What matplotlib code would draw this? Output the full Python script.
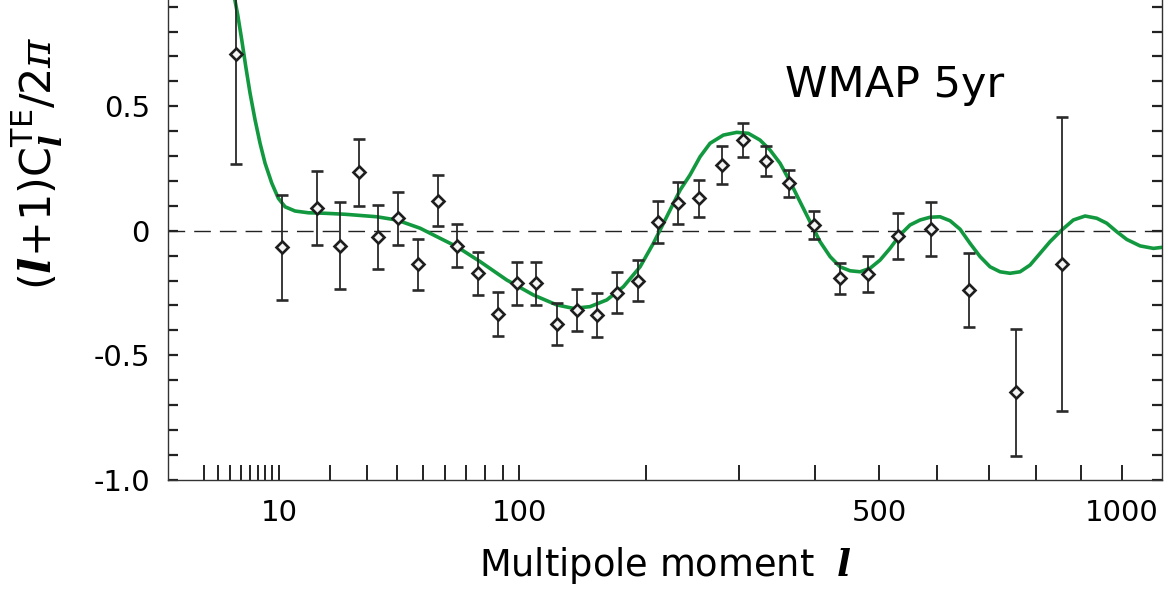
#!/usr/bin/env python3
"""
WMAP 5yr TE power spectrum - recreated from the published figure
x axis is stretched as l^0.4 like the original plot
"""

import numpy as np
import matplotlib
matplotlib.use('Agg')
import matplotlib.pyplot as plt
from matplotlib.ticker import FixedLocator, FixedFormatter

# binned TE points
ell_bins = [4.5, 10.5, 17.0, 22.5, 27.7, 33.5, 40.6, 48.3, 56.8, 65.7,
            76.4, 87.6, 98.9, 111.0, 125.3, 140.2, 156.1, 173.5, 191.8, 211.5,
            231.7, 254.2, 279.4, 305.2, 333.7, 364.7, 399.3, 437.7, 482.0, 531.8,
            589.5, 661.0, 756.0, 856.6]
te_vals = [0.710, -0.067, 0.090, -0.060, 0.235, -0.024, 0.050, -0.135, 0.120, -0.060,
           -0.171, -0.336, -0.211, -0.211, -0.376, -0.318, -0.339, -0.249, -0.201, 0.036,
           0.110, 0.130, 0.264, 0.364, 0.280, 0.190, 0.023, -0.191, -0.175, -0.021,
           0.007, -0.238, -0.649, -0.134]
te_err = [0.442, 0.212, 0.149, 0.175, 0.135, 0.128, 0.106, 0.102, 0.103, 0.087,
          0.087, 0.088, 0.087, 0.087, 0.084, 0.084, 0.087, 0.082, 0.083, 0.084,
          0.084, 0.075, 0.076, 0.068, 0.061, 0.055, 0.055, 0.062, 0.072, 0.091,
          0.108, 0.149, 0.254, 0.589]

# best-fit model curve, sampled from the figure
model_ell = [3.98, 4.709, 5.121, 5.553, 6.041, 6.640, 7.273, 7.941, 8.892, 9.893,
             10.975, 12.716, 15.275, 18.896, 23.852, 33.17, 40.03, 49.01, 59.07, 65.40,
             77.32, 92.47, 109.2, 125.3, 137.6, 150.6, 164.4, 178.8, 194.0, 206.6,
             219.8, 233.5, 244.0, 254.9, 266.0, 281.3, 297.2, 311.3, 326.0, 338.9,
             352.1, 365.6, 379.4, 393.5, 407.9, 422.7, 437.7, 453.1, 468.8, 484.7,
             501.1, 517.7, 534.7, 552.0, 569.7, 587.6, 605.9, 624.6, 643.6, 662.9,
             682.6, 702.6, 723.0, 743.7, 764.8, 786.2, 808.0, 830.1, 856.6, 883.1,
             910.5, 938.3, 962.5, 987.1, 1012.0, 1045.8, 1080.3, 1102.4]
model_te = [1.027, 0.866, 0.766, 0.659, 0.552, 0.445, 0.351, 0.271, 0.191, 0.130,
            0.096, 0.079, 0.072, 0.070, 0.066, 0.056, 0.043, 0.010, -0.037, -0.064,
            -0.124, -0.198, -0.258, -0.298, -0.312, -0.305, -0.278, -0.225, -0.145, -0.051,
            0.056, 0.163, 0.224, 0.297, 0.351, 0.384, 0.395, 0.391, 0.364, 0.324,
            0.271, 0.197, 0.116, 0.036, -0.044, -0.104, -0.145, -0.161, -0.165, -0.151,
            -0.118, -0.071, -0.017, 0.023, 0.043, 0.054, 0.056, 0.040, 0.006, -0.051,
            -0.104, -0.145, -0.165, -0.171, -0.165, -0.138, -0.091, -0.044, 0.003, 0.043,
            0.059, 0.050, 0.030, -0.004, -0.035, -0.061, -0.071, -0.067]

x_major = [10, 100, 500, 1000]
x_minor = [2, 3, 4, 5, 6, 7, 8, 9, 20, 30, 40, 50, 60, 70, 80, 90,
           200, 300, 400, 600, 700, 800, 900]
y_major = [-1.0, -0.5, 0.0, 0.5, 1.0]
y_labels = ['-1.0', '-0.5', '0', '0.5', '1.0']

plt.rcParams['font.family'] = 'DejaVu Sans'
plt.rcParams['axes.unicode_minus'] = False
plt.rcParams['mathtext.fontset'] = 'custom'
plt.rcParams['mathtext.rm'] = 'DejaVu Sans'
plt.rcParams['mathtext.it'] = 'DejaVu Serif:italic'
plt.rcParams['mathtext.bf'] = 'DejaVu Serif:italic:bold'

W, H = 1167, 599
fig = plt.figure(figsize=(W / 100, H / 100), dpi=100)
# axes top sits above the figure edge (the original is cropped there)
left, right, bottom, top = 168, 1162, 479.7, -18.3
ax = fig.add_axes([left / W, (H - bottom) / H, (right - left) / W, (bottom - top) / H])


def fwd(x):
    return np.power(np.clip(x, 0, None), 0.4)


def inv(x):
    return np.power(np.clip(x, 0, None), 2.5)


ax.set_xscale('function', functions=(fwd, inv))
ax.set_xlim(0.495, 1103)
ax.set_ylim(-1.0, 1.0)

ax.axhline(0, color='#222222', lw=1.0, ls=(0, (12, 6.5)), zorder=1)
ax.plot(model_ell, model_te, color='#12993f', lw=2.6, solid_joinstyle='round', zorder=2)
ax.errorbar(ell_bins, te_vals, yerr=te_err, fmt='D', ms=6.3, mfc='#f4f4f4',
            mec='#1e1e1e', mew=1.9, ecolor='#2a2a2a', elinewidth=1.3,
            capsize=4.5, capthick=1.3, zorder=3)

ax.xaxis.set_major_locator(FixedLocator(x_major))
ax.xaxis.set_major_formatter(FixedFormatter([str(v) for v in x_major]))
ax.xaxis.set_minor_locator(FixedLocator(x_minor))
ax.xaxis.set_minor_formatter(FixedFormatter([''] * len(x_minor)))
ax.yaxis.set_major_locator(FixedLocator(y_major))
ax.yaxis.set_major_formatter(FixedFormatter(y_labels))
ax.yaxis.set_minor_locator(FixedLocator(np.round(np.arange(-0.9, 1.0, 0.1), 1)))

ax.tick_params(axis='x', which='both', direction='in', length=10.5, width=1.4,
               top=False, labelsize=21, pad=14, colors='#222222', labelcolor='black')
ax.tick_params(axis='y', which='both', direction='in', length=7, width=1.6,
               right=True, labelsize=21, pad=13, colors='#222222', labelcolor='black')
for sp in ax.spines.values():
    sp.set_color('#333333')
    sp.set_linewidth(1.0)

fig.text(785 / W, (H - 97) / H, 'WMAP 5yr', fontsize=31, ha='left', va='baseline')
fig.text(665 / W, (H - 576) / H, r'Multipole moment  $\mathbf{l}$', fontsize=26.5,
         ha='center', va='baseline')
fig.text(38 / W, (H - 163) / H,
         r'$\mathrm{(}\mathbf{l}\mathrm{+1)C}_{\mathbf{l}}^{\mathrm{TE}}\mathrm{/2}\pi$',
         fontsize=31, rotation=90, ha='center', va='center')

fig.savefig('out.png', dpi=100)
